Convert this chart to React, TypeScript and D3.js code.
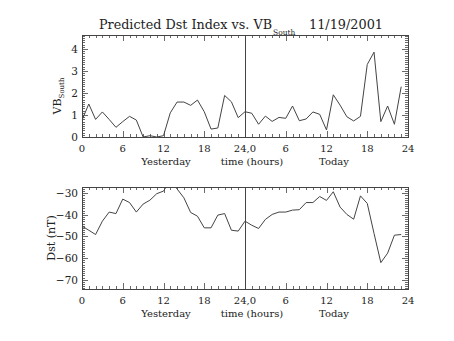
import React from "react";
import * as d3 from "d3";

const hours: number[] = Array.from({ length: 48 }, (_, i) => i);

const vbSouth: number[] = [
  0.77, 1.5, 0.8, 1.14, 0.8, 0.44, 0.7, 0.94, 0.77, 0.0, 0.06, 0.0,
  0.06, 1.1, 1.59, 1.59, 1.44, 1.68, 1.15, 0.36, 0.41, 1.89, 1.6, 0.88,
  1.15, 1.08, 0.58, 0.95, 0.71, 0.89, 0.85, 1.41, 0.74, 0.82, 1.14, 1.03,
  0.32, 1.92, 1.45, 0.92, 0.73, 0.94, 3.3, 3.86, 0.7, 1.41, 0.58, 2.29,
];

const dst: number[] = [
  -45.2, -47.1, -49.1, -42.9, -38.7, -39.4, -32.7, -34.3, -38.7, -35.0, -33.2, -30.2,
  -29.0, -24.0, -28.0, -32.1, -38.9, -40.6, -46.0, -46.0, -40.1, -39.4, -47.1, -47.5,
  -42.9, -44.8, -46.3, -42.1, -39.8, -38.7, -38.7, -37.8, -37.6, -34.3, -34.3, -31.5,
  -33.3, -29.3, -36.4, -39.8, -42.0, -31.2, -34.7, -48.6, -62.1, -57.7, -49.4, -49.1,
];

const xTickValues: number[] = [0, 6, 12, 18, 24, 30, 36, 42, 48];
const xTickLabels: string[] = ["0", "6", "12", "18", "24,0", "6", "12", "18", "24"];
const vbTicks: number[] = [0, 1, 2, 3, 4];
const dstTicks: number[] = [-70, -60, -50, -40, -30];

const titleText = "Predicted Dst Index vs. VB";
const dateText = "11/19/2001";

const W = 454;
const H = 341;
const L = 82;
const R = 408;
const FONT = "'DejaVu Serif', 'Liberation Serif', serif";
const INK = "#444";
const TXT = "#222";

type PanelProps = {
  top: number;
  bottom: number;
  domain: [number, number];
  ticks: number[];
  minorStep: number;
  values: number[];
  id: string;
  yLabel: React.ReactNode;
};

function Panel({ top, bottom, domain, ticks, minorStep, values, id, yLabel }: PanelProps) {
  const x = d3.scaleLinear().domain([0, 48]).range([L, R]);
  const y = d3.scaleLinear().domain(domain).range([bottom, top]);
  const line = d3
    .line<number>()
    .x((_, i) => x(hours[i]))
    .y((d) => y(d));
  const xMinor = d3.range(0, 49, 1);
  const yMinor: number[] = [];
  const start = Math.ceil(domain[0] / minorStep);
  const end = Math.floor(domain[1] / minorStep);
  for (let k = start; k <= end; k++) yMinor.push(+(k * minorStep).toFixed(4));
  const isMajorX = (v: number) => v % 6 === 0;
  const isMajorY = (v: number) => ticks.some((t) => Math.abs(t - v) < 1e-6);
  return (
    <g>
      <defs>
        <clipPath id={id}>
          <rect x={L} y={top} width={R - L} height={bottom - top} />
        </clipPath>
      </defs>
      <rect x={L + 0.5} y={top + 0.5} width={R - L} height={bottom - top} fill="none" stroke={INK} strokeWidth={1} />
      {xMinor.map((v) => {
        const len = isMajorX(v) ? 6 : 3;
        const px = Math.round(x(v)) + 0.5;
        return (
          <g key={"xt" + v}>
            <line x1={px} x2={px} y1={bottom} y2={bottom - len} stroke={INK} strokeWidth={0.8} />
            <line x1={px} x2={px} y1={top} y2={top + len} stroke={INK} strokeWidth={0.8} />
          </g>
        );
      })}
      {yMinor.map((v) => {
        const len = isMajorY(v) ? 6 : 3;
        const py = Math.round(y(v)) + 0.5;
        return (
          <g key={"yt" + v}>
            <line x1={L} x2={L + len} y1={py} y2={py} stroke={INK} strokeWidth={0.8} />
            <line x1={R} x2={R - len} y1={py} y2={py} stroke={INK} strokeWidth={0.8} />
          </g>
        );
      })}
      <line x1={Math.round(x(24)) + 0.5} x2={Math.round(x(24)) + 0.5} y1={top} y2={bottom} stroke={INK} strokeWidth={1} />
      <path d={line(values) || ""} fill="none" stroke={INK} strokeWidth={1} clipPath={`url(#${id})`} />
      {ticks.map((t) => (
        <text key={"yl" + t} x={L - 4} y={y(t) + 4} fontSize={10.5} textAnchor="end" fontFamily={FONT} fill={TXT}>
          {t < 0 ? "\u2212" + Math.abs(t) : String(t)}
        </text>
      ))}
      {xTickValues.map((v, i) => (
        <text key={"xl" + i} x={x(v)} y={bottom + 15} fontSize={10} textAnchor="middle" fontFamily={FONT} fill={TXT}>
          {xTickLabels[i]}
        </text>
      ))}
      <text x={166} y={bottom + 27.5} fontSize={10} textAnchor="middle" fontFamily={FONT} fill={TXT}>Yesterday</text>
      <text x={252} y={bottom + 27.5} fontSize={10} textAnchor="middle" fontFamily={FONT} fill={TXT}>time (hours)</text>
      <text x={334} y={bottom + 27.5} fontSize={10} textAnchor="middle" fontFamily={FONT} fill={TXT}>Today</text>
      {yLabel}
    </g>
  );
}

export default function App() {
  return (
    <svg width={W} height={H} style={{ position: "absolute", left: 0, top: 0, background: "#fff" }}>
      <rect width={W} height={H} fill="#fff" />
      <text x={99} y={29} fontSize={13} fontFamily={FONT} fill={TXT} textLength={173} lengthAdjust="spacingAndGlyphs">
        {titleText}
      </text>
      <text x={273} y={35} fontSize={7.5} fontFamily={FONT} fill={TXT}>South</text>
      <text x={309} y={29} fontSize={13} fontFamily={FONT} fill={TXT} textLength={74} lengthAdjust="spacingAndGlyphs">
        {dateText}
      </text>
      <Panel
        top={35}
        bottom={137}
        domain={[0, 4.64]}
        ticks={vbTicks}
        minorStep={0.1}
        values={vbSouth}
        id="clipTop"
        yLabel={
          <text transform="translate(61,96) rotate(-90)" fontSize={11} fontFamily={FONT} fill={TXT} textAnchor="middle">
            VB<tspan fontSize={7} dy={2.5}>South</tspan>
          </text>
        }
      />
      <Panel
        top={187}
        bottom={289}
        domain={[-74.3, -27.1]}
        ticks={dstTicks}
        minorStep={1}
        values={dst}
        id="clipBot"
        yLabel={
          <text transform="translate(55,238) rotate(-90)" fontSize={11} fontFamily={FONT} fill={TXT} textAnchor="middle">
            Dst (nT)
          </text>
        }
      />
    </svg>
  );
}
